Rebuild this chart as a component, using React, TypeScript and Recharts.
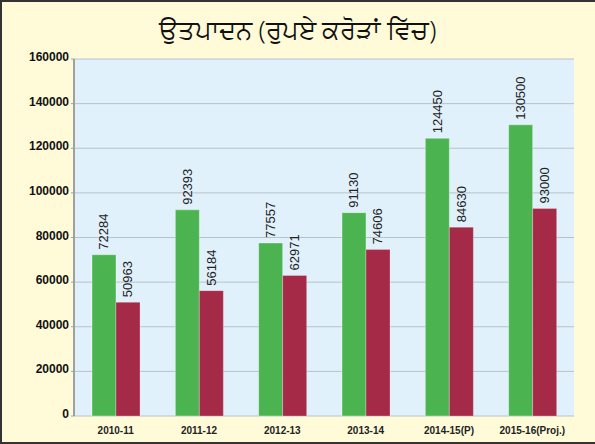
import React from "react";
import { BarChart, Bar, XAxis, YAxis, CartesianGrid, LabelList } from "recharts";

const categories = ["2010-11", "2011-12", "2012-13", "2013-14", "2014-15(P)", "2015-16(Proj.)"];
const greenValues = [72284, 92393, 77557, 91130, 124450, 130500];
const redValues = [50963, 56184, 62971, 74606, 84630, 93000];
const yTicks = [0, 20000, 40000, 60000, 80000, 100000, 120000, 140000, 160000];
const edgeTicks = [0, 1, 2, 3, 4, 5, 6];
const title = "ਉਤਪਾਦਨ (ਰੁਪਏ ਕਰੋੜਾਂ ਵਿੱਚ)";

const data = categories.map((c, i) => ({ name: c, a: greenValues[i], b: redValues[i] }));

const VLabel = (props: any) => {
  const { x, y, width, value } = props;
  const cx = Number(x) + Number(width) / 2;
  const cy = Number(y) - 5;
  return (
    <text
      x={cx}
      y={cy}
      transform={`rotate(-90, ${cx}, ${cy})`}
      textAnchor="start"
      dominantBaseline="central"
      fontFamily="'Liberation Sans Narrow', 'Arial Narrow', 'Liberation Sans', sans-serif"
      fontSize={13}
      fill="#222"
    >
      {value}
    </text>
  );
};

const YTick = (props: any) => {
  const { x, y, payload } = props;
  return (
    <text
      x={x}
      y={y - 2}
      textAnchor="end"
      dominantBaseline="central"
      fontFamily="'Liberation Sans', Arial, sans-serif"
      fontSize={12}
      fontWeight="bold"
      fill="#111"
    >
      {payload.value}
    </text>
  );
};

export default function App() {
  return (
    <div style={{ position: "fixed", left: 0, top: 0, width: 595, height: 444, background: "#FFFBD9", overflow: "hidden" }}>
      <div
        style={{
          position: "absolute",
          left: 0,
          top: 12,
          width: 595,
          textAlign: "center",
          fontFamily: "'Noto Sans', 'DejaVu Sans', sans-serif",
          fontSize: 26,
          fontWeight: 300,
          lineHeight: "34px",
          color: "#111",
        }}
      >
        {title}
      </div>
      <div style={{ position: "absolute", left: 0, top: 0 }}>
        <BarChart
          width={595}
          height={444}
          data={data}
          margin={{ top: 59, right: 21, bottom: 0, left: 0 }}
          barSize={24}
          barGap={0}
        >
          <CartesianGrid vertical={false} stroke="#B7C2CA" strokeWidth={1} fill="#E0F1FB" />
          <XAxis
            xAxisId="edges"
            type="number"
            domain={[0, 6]}
            ticks={edgeTicks}
            tick={false}
            height={1}
            axisLine={{ stroke: "#A0A0A0", strokeWidth: 2 }}
            tickLine={{ stroke: "#A8A8A8" }}
            tickSize={4}
            allowDataOverflow
          />
          <XAxis
            dataKey="name"
            height={27}
            axisLine={false}
            tickLine={false}
            tickSize={5}
            tickMargin={6}
            interval={0}
            tick={{ fontFamily: "'Liberation Sans', Arial, sans-serif", fontSize: 10, fontWeight: "bold", fill: "#222" }}
          />
          <YAxis
            width={74}
            domain={[0, 160000]}
            ticks={yTicks}
            interval={0}
            axisLine={{ stroke: "#A0A0A0", strokeWidth: 2 }}
            tickLine={{ stroke: "#A0A0A0" }}
            tickSize={3}
            tickMargin={2}
            tick={YTick}
          />
          <Bar dataKey="a" fill="#4BB450" stroke="rgba(255,255,255,0.35)" strokeWidth={1} isAnimationActive={false}>
            <LabelList dataKey="a" content={VLabel} />
          </Bar>
          <Bar dataKey="b" fill="#A52A47" stroke="rgba(255,255,255,0.25)" strokeWidth={1} isAnimationActive={false}>
            <LabelList dataKey="b" content={VLabel} />
          </Bar>
        </BarChart>
      </div>
      <div
        style={{
          position: "absolute",
          left: 0,
          top: 0,
          width: 595,
          height: 444,
          boxSizing: "border-box",
          borderLeft: "2px solid #333",
          borderTop: "2px solid #333",
          borderBottom: "2px solid #333",
          pointerEvents: "none",
        }}
      />
    </div>
  );
}
